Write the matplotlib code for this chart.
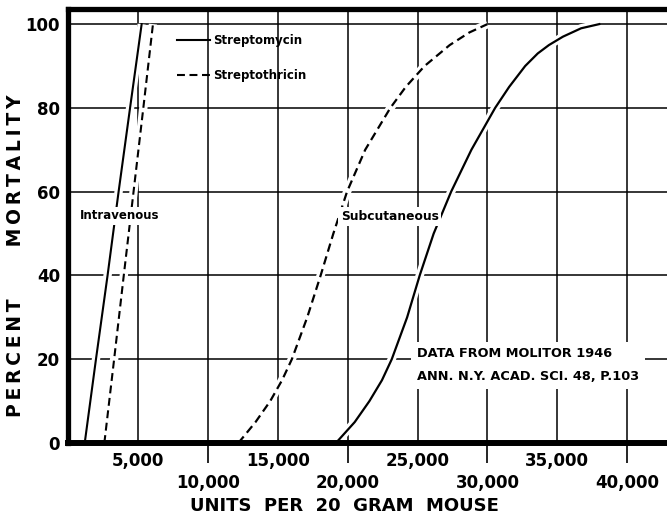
import matplotlib
matplotlib.use("Agg")
import matplotlib.pyplot as plt

# values (units per 20 gram mouse vs percent mortality)
iv_pct = [0, 20, 40, 60, 80, 100]
iv_streptomycin = [1175, 1980, 2810, 3600, 4420, 5250]
iv_streptothricin = [2580, 3280, 3970, 4670, 5370, 6060]

sc_mycin_pct = [0, 5, 10, 15, 20, 30, 40, 50, 60, 70, 80, 85, 90, 93, 95, 97, 99, 100]
sc_streptomycin = [19150, 20500, 21550, 22450, 23150, 24250, 25150, 26150, 27400,
                   28850, 30550, 31550, 32700, 33600, 34400, 35400, 36700, 38000]

sc_thricin_pct = [0, 5, 10, 15, 20, 30, 40, 50, 60, 70, 80, 85, 90, 95, 98, 100]
sc_streptothricin = [12170, 13400, 14450, 15300, 16000, 17100, 18060, 18970, 19950,
                     21250, 23050, 24150, 25500, 27300, 28700, 30000]

minor_ticks = [5000, 15000, 25000, 35000]
major_ticks = [10000, 20000, 30000, 40000]
y_ticks = [0, 20, 40, 60, 80, 100]

fig = plt.figure(figsize=(6.67, 5.19), dpi=100)
ax = fig.add_axes([0.1024, 0.1464, 0.8976, 0.8362])
ax.set_xlim(0, 42850)
ax.set_ylim(0, 103.6)

# white underlay so grid lines break where the curves cross them
for xs, ys in [(iv_streptomycin, iv_pct), (iv_streptothricin, iv_pct),
               (sc_streptomycin, sc_mycin_pct), (sc_streptothricin, sc_thricin_pct)]:
    ax.plot(xs, ys, color="white", lw=6, solid_capstyle="butt", zorder=1.5)

ax.plot(iv_streptomycin, iv_pct, color="black", lw=1.5, label="Streptomycin", zorder=2)
ax.plot(iv_streptothricin, iv_pct, color="black", lw=1.5, dashes=(3.8, 2.2),
        label="Streptothricin", zorder=2)
ax.plot(sc_streptomycin, sc_mycin_pct, color="black", lw=1.6, zorder=2)
ax.plot(sc_streptothricin, sc_thricin_pct, color="black", lw=1.6, dashes=(3.8, 2.2), zorder=2)

ax.set_xticks(major_ticks)
ax.set_xticklabels([f"{v:,}" for v in major_ticks])
ax.set_xticks(minor_ticks, minor=True)
ax.set_xticklabels([f"{v:,}" for v in minor_ticks], minor=True)
ax.set_yticks(y_ticks)
ax.set_yticklabels([str(v) for v in y_ticks])

ax.tick_params(axis="x", which="major", length=14.4, width=1.2, pad=8, labelsize=12)
ax.tick_params(axis="x", which="minor", length=0, pad=6.5, labelsize=12)
ax.tick_params(axis="y", length=0, pad=6, labelsize=12)
for lab in ax.get_xticklabels(which="both") + ax.get_yticklabels():
    lab.set_fontweight("bold")

ax.set_axisbelow(True)
ax.grid(which="both", color="black", lw=1.1)

ax.spines["left"].set_linewidth(3.8)
ax.spines["bottom"].set_linewidth(4.3)
ax.spines["top"].set_linewidth(3.8)
ax.spines["right"].set_visible(False)

# letter-spaced axis titles like the hand lettering
ts = "\u2009"
ax.set_xlabel("UNITS  PER  20  GRAM  MOUSE", fontsize=13, fontweight="bold")
ax.xaxis.set_label_coords(0.462, -0.125)
ax.set_ylabel(ts.join("PERCENT") + " " * 8 + ts.join("MORTALITY"),
              fontsize=13.5, fontweight="bold")
ax.yaxis.set_label_coords(-0.072, 0.431)

box = dict(facecolor="white", edgecolor="none", pad=2)
ax.text(3700, 54.2, "Intravenous", fontsize=8.5, fontweight="bold",
        ha="center", va="center", bbox=box, zorder=3)
ax.text(23000, 54.0, "Subcutaneous", fontsize=8.8, fontweight="bold",
        ha="center", va="center", bbox=box, zorder=3)
ax.text(24960, 18.6, "DATA FROM MOLITOR 1946\nANN. N.Y. ACAD. SCI. 48, P.103",
        fontsize=9.3, fontweight="bold", ha="left", va="center", linespacing=2.0,
        bbox=dict(facecolor="white", edgecolor="none", pad=4), zorder=3)

ax.legend(loc="upper left", bbox_to_anchor=(0.2654, 0.935), bbox_transform=fig.transFigure,
          frameon=False, borderpad=0, borderaxespad=0, handlelength=2.8,
          handletextpad=0.3, labelspacing=1.9, prop={"weight": "bold", "size": 8.5})

fig.savefig("out.png", dpi=100)
